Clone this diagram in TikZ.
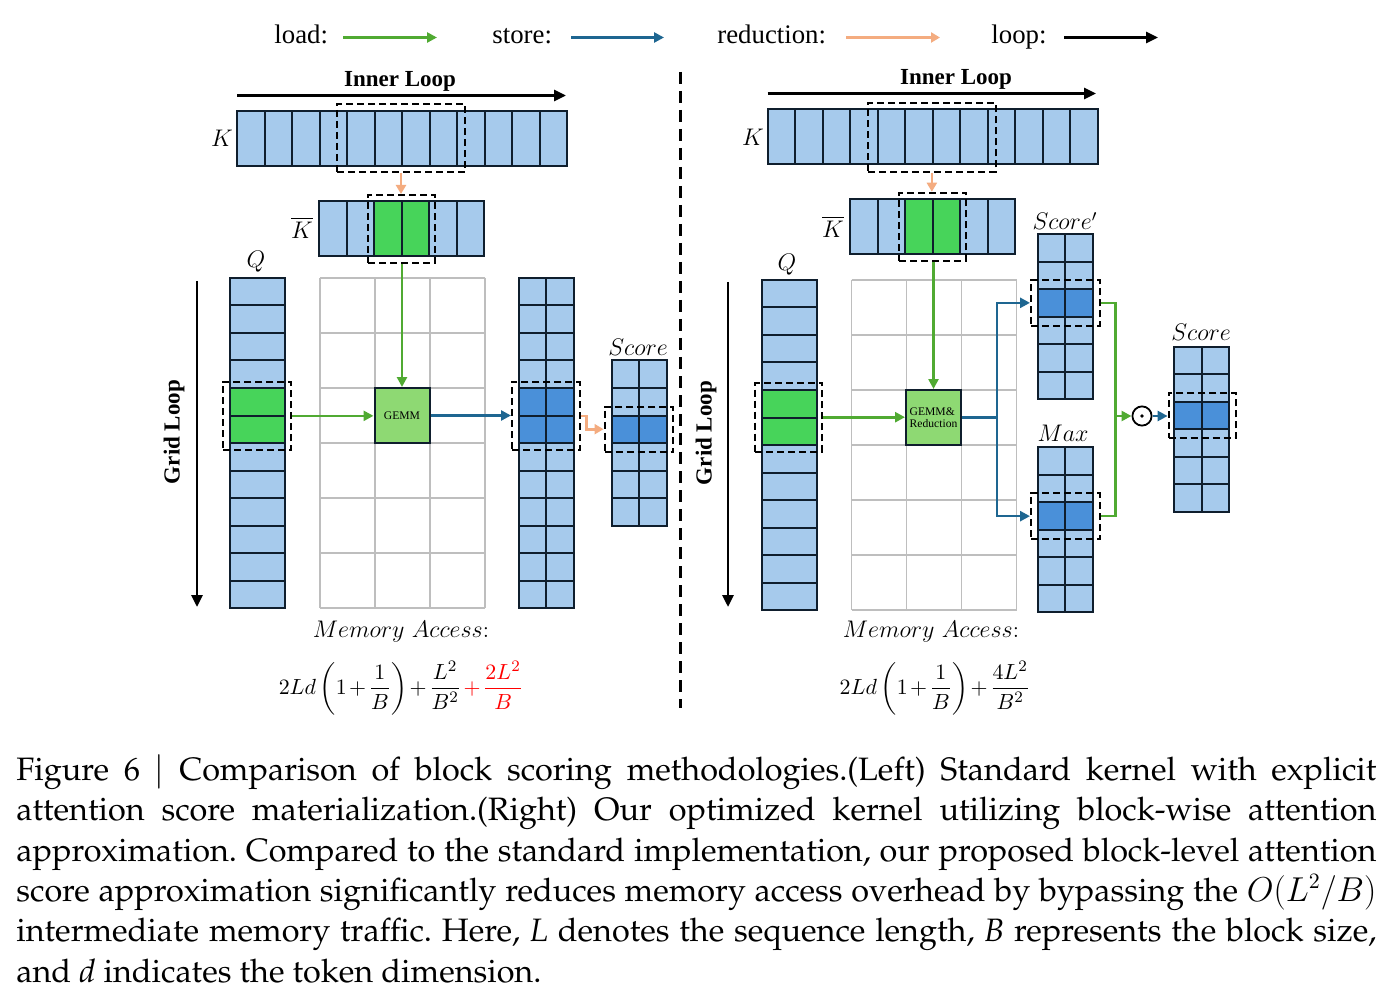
\documentclass[tikz,border=0pt]{standalone}
\usepackage[T1]{fontenc}
\usepackage{fontspec}
\usepackage{amsmath}
\usetikzlibrary{arrows.meta,fit}
\newfontfamily\timesfont{Liberation Serif}
\newcommand\capfont{\fontencoding{T1}\fontfamily{ppl}\fontsize{16.2}{20.2}\selectfont\frenchspacing\hyphenpenalty=10000\exhyphenpenalty=10000}
\definecolor{lblue}{RGB}{166,202,236}
\definecolor{dblue}{RGB}{74,144,217}
\definecolor{gcell}{RGB}{71,212,90}
\definecolor{gemmfill}{RGB}{142,217,115}
\definecolor{loadc}{RGB}{80,170,50}
\definecolor{storec}{RGB}{30,102,145}
\definecolor{reduc}{RGB}{244,172,128}
\definecolor{cellline}{RGB}{15,30,45}
\definecolor{gridc}{RGB}{190,190,190}

\begin{document}
\begin{tikzpicture}[x=0.5pt,y=-0.5pt,
  cell/.style={draw=cellline,line width=1pt,fill=lblue},
  selbox/.style={draw=black,line width=1pt,dash pattern=on 3.5pt off 2pt,inner sep=0pt},
  gridline/.style={draw=gridc,line width=0.9pt},
  loadarr/.style={draw=loadc,line width=1.3pt,-{Triangle[length=5pt,width=5pt]}},
  storearr/.style={draw=storec,line width=1.3pt,-{Triangle[length=5pt,width=5pt]}},
  reducarr/.style={draw=reduc,line width=1.3pt,-{Triangle[length=4.5pt,width=5pt]}},
  looparr/.style={draw=black,line width=1.4pt,-{Triangle[length=6pt,width=5.5pt]}},
  gemm/.style={draw=cellline,fill=gemmfill,line width=1pt,minimum size=27.5pt,inner sep=0pt,font=\timesfont\fontsize{5.8}{6.3}\selectfont},
  lbl/.style={inner sep=0pt,font=\fontsize{11.5}{13}\selectfont},
  cost/.style={inner sep=0pt,font=\fontsize{11}{13}\selectfont},
  legend/.style={inner sep=0pt,anchor=base west,font=\timesfont\fontsize{13.4}{15}\selectfont},
  title/.style={inner sep=0pt,font=\timesfont\bfseries\fontsize{11.5}{13}\selectfont}]
\path[fill=white,use as bounding box] (0,0) rectangle (1396,1005);

\node[legend] (lload) at (274,44) {load:};
\node[legend] (lstore) at (492,44) {store:};
\node[legend] (lredu) at (717,44) {reduction:};
\node[legend] (lloop) at (991,44) {loop:};
\draw[loadarr] (343,37.5) -- (437,37.5);
\draw[storearr] (571,37.5) -- (664,37.5);
\draw[reducarr] (846,37.5) -- (940,37.5);
\draw[looparr] (1064,37.5) -- (1158,37.5);

\draw[line width=1.5pt,dash pattern=on 6pt off 3.5pt] (680,72) -- (680,708);

% left: standard kernel
\node[title] (innl) at (400,81) {Inner Loop};
\draw[looparr] (237,95.5) -- (566,95.5);
\foreach \i in {0,...,11}
  \draw[cell] ({237+27.5*\i},111) rectangle ++(27.5,55);
\node[lbl] (kl) at (222,138) {$K$};
\foreach \i in {0,...,5}
  \draw[cell] ({319+27.5*\i},201) rectangle ++(27.5,55);
\foreach \i in {2,3}
  \draw[cell,fill=gcell] ({319+27.5*\i},201) rectangle ++(27.5,55);
\node[lbl] (kbl) at (302,228) {$\overline{K}$};

\foreach \i in {0,...,3}
  \draw[gridline] ({320+55*\i},278) -- ++(0,330);
\foreach \j in {0,...,6}
  \draw[gridline] (320,{278+55*\j}) -- ++(165,0);

\foreach \j in {0,...,11}
  \draw[cell] (230,{278+27.5*\j}) rectangle ++(55,27.5);
\foreach \j in {4,5}
  \draw[cell,fill=gcell] (230,{278+27.5*\j}) rectangle ++(55,27.5);
\node[lbl] (ql) at (256,262) {$Q$};

\foreach \i in {0,1} \foreach \j in {0,...,11}
  \draw[cell] ({518.5+27.5*\i},{278+27.5*\j}) rectangle ++(27.5,27.5);
\foreach \i in {0,1} \foreach \j in {4,5}
  \draw[cell,fill=dblue] ({518.5+27.5*\i},{278+27.5*\j}) rectangle ++(27.5,27.5);

\foreach \i in {0,1} \foreach \j in {0,...,5}
  \draw[cell] ({611.5+27.5*\i},{360.5+27.5*\j}) rectangle ++(27.5,27.5);
\foreach \i in {0,1}
  \draw[cell,fill=dblue] ({611.5+27.5*\i},415.5) rectangle ++(27.5,27.5);
\node[lbl] (scl) at (638,347) {$Score$};

\node[gemm] (gemml) at (402,415.5) {GEMM};

\node[selbox,fit={(337,104) (465,172)}] (kdl) {};
\node[selbox,fit={(368,195) (435,263)}] (kbdl) {};
\node[selbox,fit={(223,381.7) (291,450)}] (qdl) {};
\node[selbox,fit={(512,381.7) (579.5,450)}] (sdl) {};
\node[selbox,fit={(604.5,406.7) (673.4,451.7)}] (scdl) {};

\draw[reducarr] (kdl.south) -- (kdl.south |- kbdl.north);
\draw[loadarr] (kbdl.south -| gemml.north) -- (gemml.north);
\draw[loadarr] (qdl.east) -- (qdl.east -| gemml.west);
\draw[storearr] (gemml.east) -- (gemml.east -| sdl.west);
\draw[reducarr] (sdl.east) -- ++(6,0) |- (scdl.west);

\draw[looparr] (197,281) -- (197,607);
\node[title,rotate=90] (gll) at (174,432) {Grid Loop};

\node[lbl] (mal) at (401,632) {$Memory\ Access$:};
\node[cost] (fml) at (401,688) {$\medmuskip=2mu\displaystyle 2Ld\left(1+\frac{1}{B}\right)+\frac{L^2}{B^2}\mathbin{\textcolor{red}{+}}\textcolor{red}{\frac{2L^2}{B}}$};

% right: optimized kernel
\node[title] (innr) at (956,79) {Inner Loop};
\draw[looparr] (767.5,93.5) -- (1096,93.5);
\foreach \i in {0,...,11}
  \draw[cell] ({767.5+27.5*\i},109) rectangle ++(27.5,55);
\node[lbl] (kr) at (753,137) {$K$};
\foreach \i in {0,...,5}
  \draw[cell] ({850+27.5*\i},199) rectangle ++(27.5,55);
\foreach \i in {2,3}
  \draw[cell,fill=gcell] ({850+27.5*\i},199) rectangle ++(27.5,55);
\node[lbl] (kbr) at (833,227) {$\overline{K}$};

\foreach \i in {0,...,3}
  \draw[gridline] ({851.5+55*\i},280) -- ++(0,330);
\foreach \j in {0,...,6}
  \draw[gridline] (851.5,{280+55*\j}) -- ++(165,0);

\foreach \j in {0,...,11}
  \draw[cell] (761.5,{280+27.5*\j}) rectangle ++(55,27.5);
\foreach \j in {4,5}
  \draw[cell,fill=gcell] (761.5,{280+27.5*\j}) rectangle ++(55,27.5);
\node[lbl] (qr) at (787,265) {$Q$};

\foreach \i in {0,1} \foreach \j in {0,...,5} {
  \draw[cell] ({1037.5+27.5*\i},{234.3+27.5*\j}) rectangle ++(27.5,27.5);
  \draw[cell] ({1037.5+27.5*\i},{447.3+27.5*\j}) rectangle ++(27.5,27.5);
  \draw[cell] ({1174+27.5*\i},{346.7+27.5*\j}) rectangle ++(27.5,27.5);
}
\foreach \i in {0,1} {
  \draw[cell,fill=dblue] ({1037.5+27.5*\i},289.3) rectangle ++(27.5,27.5);
  \draw[cell,fill=dblue] ({1037.5+27.5*\i},502.3) rectangle ++(27.5,27.5);
  \draw[cell,fill=dblue] ({1174+27.5*\i},401.7) rectangle ++(27.5,27.5);
}
\node[lbl] (spr) at (1065,221) {$Score'$};
\node[lbl] (mxr) at (1063,433) {$Max$};
\node[lbl] (scr) at (1201,332) {$Score$};

\node[gemm,align=left] (gemmr) at (933.5,417.5) {GEMM\&\\Reduction};

\node[selbox,fit={(868,103.3) (995.7,171.7)}] (kdr) {};
\node[selbox,fit={(899.3,192.7) (966,260.7)}] (kbdr) {};
\node[selbox,fit={(755.4,382.7) (822,451.7)}] (qdr) {};
\node[selbox,fit={(1031,280) (1099.6,325.7)}] (spdr) {};
\node[selbox,fit={(1031,493.3) (1099.6,539)}] (mxdr) {};
\node[selbox,fit={(1168.6,392.7) (1235.7,438.3)}] (s2dr) {};

\draw[reducarr] (kdr.south) -- (kdr.south |- kbdr.north);
\draw[loadarr] (kbdr.south -| gemmr.north) -- (gemmr.north);
\draw[loadarr] (qdr.east) -- (qdr.east -| gemmr.west);
\draw[storec,line width=1.3pt] (gemmr.east) -- ++(35,0) coordinate (fork);
\draw[storearr] (fork) |- (spdr.west);
\draw[storearr] (fork) |- (mxdr.west);
\coordinate (merge) at (1115.7,416);
\draw[loadc,line width=1.3pt] (spdr.east) -| (merge) |- (mxdr.east);
\node[circle,draw,line width=0.9pt,minimum size=9.6pt,inner sep=0pt] (dot) at (1142,416) {};
\fill (dot.center) circle (0.9pt);
\draw[loadarr] (merge) -- (dot.west);
\draw[storearr] (dot.east) -- (dot.east -| s2dr.west);

\draw[looparr] (728,282) -- (728,607);
\node[title,rotate=90] (glr) at (706,433) {Grid Loop};

\node[lbl] (mar) at (931,632) {$Memory\ Access$:};
\node[cost] (fmr) at (935,688) {$\medmuskip=2mu\displaystyle 2Ld\left(1+\frac{1}{B}\right)+\frac{4L^2}{B^2}$};

\node[anchor=north west,inner sep=0pt,text width=680pt,align=justify,font=\capfont] (cap) at (16,754)
  {Figure 6 $\vert$ Comparison of block scoring methodologies.(Left) Standard kernel with explicit\linebreak
   attention score materialization.(Right) Our optimized kernel utilizing block-wise attention\linebreak
   approximation. Compared to the standard implementation, our proposed block-level attention\linebreak
   score approximation significantly reduces memory access overhead by bypassing the $O(L^2/B)$\linebreak
   intermediate memory traffic. Here, \textit{L} denotes the sequence length, \textit{B} represents the block size,\linebreak
   and \textit{d} indicates the token dimension.};
\end{tikzpicture}
\end{document}
